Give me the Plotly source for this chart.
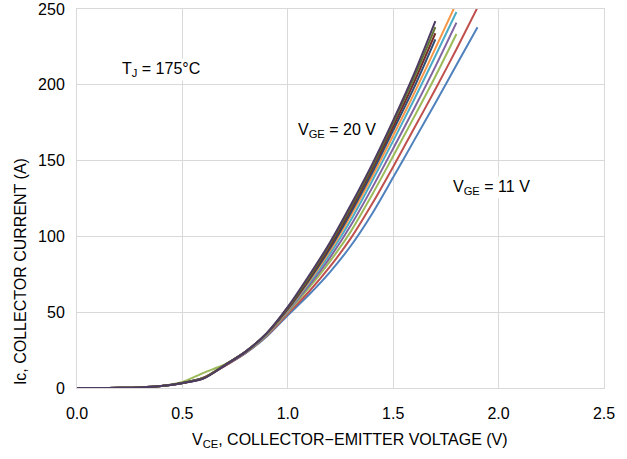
import plotly.graph_objects as go

# Output characteristics, TJ = 175 C.  Collector current (A) vs VCE on a 0.1 V grid.
vce = [0.0, 0.1, 0.2, 0.3, 0.4, 0.5, 0.6, 0.7, 0.8, 0.9,
       1.0, 1.1, 1.2, 1.3, 1.4, 1.5, 1.6, 1.7, 1.8, 1.9]

vge = [11, 12, 13, 14, 15, 16, 17, 18, 19, 20]

ic_11 = [0, 0, 0.1, 0.4, 1.3, 3.3, 6.8, 14.5, 23, 34,
         48, 61.5, 76.5, 94, 115, 139, 163.5, 188, 213, 238]
ic_12 = [0, 0, 0.1, 0.4, 1.3, 3.3, 6.8, 14.5, 23.2, 34.5,
         49, 63.5, 80, 99, 121.5, 146, 171.5, 197, 223.5, 251]
ic_13 = [0, 0, 0.1, 0.4, 1.4, 4, 10, 15.5, 23.5, 35,
         50, 66, 83.5, 103.5, 127.5, 153, 179, 205.5, 233.5]
ic_14 = [0, 0, 0.1, 0.4, 1.3, 3.3, 6.8, 15, 23.5, 35.3,
         50.7, 67.5, 86, 107.5, 132, 158, 184.5, 212, 241]
ic_15 = [0, 0, 0.1, 0.4, 1.3, 3.3, 6.8, 15, 23.7, 35.5,
         51.2, 69, 88.5, 111, 136.5, 163, 190.5, 219, 248]
ic_16 = [0, 0, 0.1, 0.4, 1.3, 3.3, 6.8, 15, 23.8, 35.7,
         51.6, 70, 90.5, 114, 139.5, 166.5, 194.5, 224, 254]
ic_17 = [0, 0, 0.1, 0.4, 1.3, 3.3, 6.6, 15, 24, 36,
         52, 71, 92, 116, 142, 170, 198.5, 230]
ic_18 = [0, 0, 0.1, 0.4, 1.3, 3.3, 6.5, 15, 24, 36,
         52.5, 72, 93.5, 118, 144.5, 172.5, 202, 234]
ic_19 = [0, 0, 0.1, 0.4, 1.3, 3.3, 6.4, 15, 24, 36,
         53, 73, 95, 119.5, 146, 175, 205, 238]
ic_20 = [0, 0, 0.1, 0.4, 1.3, 3.2, 6.2, 14.8, 24, 36.2,
         53.5, 74, 96, 121, 147.5, 176.5, 207.5, 242]

currents = [ic_11, ic_12, ic_13, ic_14, ic_15, ic_16, ic_17, ic_18, ic_19, ic_20]

# Office 2007 chart palette
_COLORS = ["#4F81BD", "#C0504D", "#9BBB59", "#8064A2", "#4BACC6",
           "#F79646", "#2C4D75", "#772C2A", "#5F7530", "#4D3B62"]

_GRID = "#D9D9D9"
_FONT = "Liberation Sans, Arial, sans-serif"

fig = go.Figure()
for v, ic, color in zip(vge, currents, _COLORS):
    fig.add_trace(go.Scatter(
        x=vce[:len(ic)], y=ic,
        mode="lines",
        line={"color": color, "width": 2, "shape": "spline", "smoothing": 0.8},
        name=f"VGE = {v} V",
        showlegend=False,
        hoverinfo="skip",
    ))

_LABEL = {"size": 16, "color": "#000000", "family": _FONT}
for text, x, y in [
    ("T<sub>J</sub> = 175°C", 0.40, 210),
    ("V<sub>GE</sub> = 20 V", 1.235, 170),
    ("V<sub>GE</sub> = 11 V", 1.965, 132),
]:
    fig.add_annotation(
        text=text, x=x, y=y, showarrow=False,
        bgcolor="#FFFFFF", font=_LABEL,
    )

# axis titles sit off-centre in the original, so place them by hand
fig.add_annotation(
    text="V<sub>CE</sub>, COLLECTOR\u2212EMITTER VOLTAGE (V)",
    xref="paper", yref="paper", x=0.518, y=-0.138,
    xanchor="center", yanchor="middle", showarrow=False, font=_LABEL,
)
fig.add_annotation(
    text="Ic, COLLECTOR CURRENT (A)",
    xref="paper", yref="paper", x=-0.108, y=0.306, textangle=-90,
    xanchor="center", yanchor="middle", showarrow=False, font=_LABEL,
)

fig.update_layout(
    width=627, height=459,
    paper_bgcolor="#FFFFFF",
    plot_bgcolor="#FFFFFF",
    font={"family": _FONT, "size": 16, "color": "#000000"},
    margin={"l": 77, "r": 23, "t": 9, "b": 71},
    xaxis={
        "range": [0, 2.5], "dtick": 0.5, "tickformat": ".1f",
        "showgrid": True, "gridcolor": _GRID, "gridwidth": 1,
        "zeroline": False, "automargin": False,
        "showline": True, "linecolor": _GRID, "mirror": True,
        "ticks": "outside", "ticklen": 11, "tickcolor": "rgba(0,0,0,0)",
        "tickfont": {"size": 16},
    },
    yaxis={
        "range": [0, 250], "dtick": 50,
        "showgrid": True, "gridcolor": _GRID, "gridwidth": 1,
        "zeroline": False, "automargin": False,
        "showline": True, "linecolor": _GRID, "mirror": True,
        "ticks": "outside", "ticklen": 8, "tickcolor": "rgba(0,0,0,0)",
        "tickfont": {"size": 16},
    },
)

# drop the browser's default 8px body margin so the figure sits at the page origin
fig.write_html(
    "out.html",
    config={"displayModeBar": False},
    post_script="document.body.style.margin = '0';",
)
